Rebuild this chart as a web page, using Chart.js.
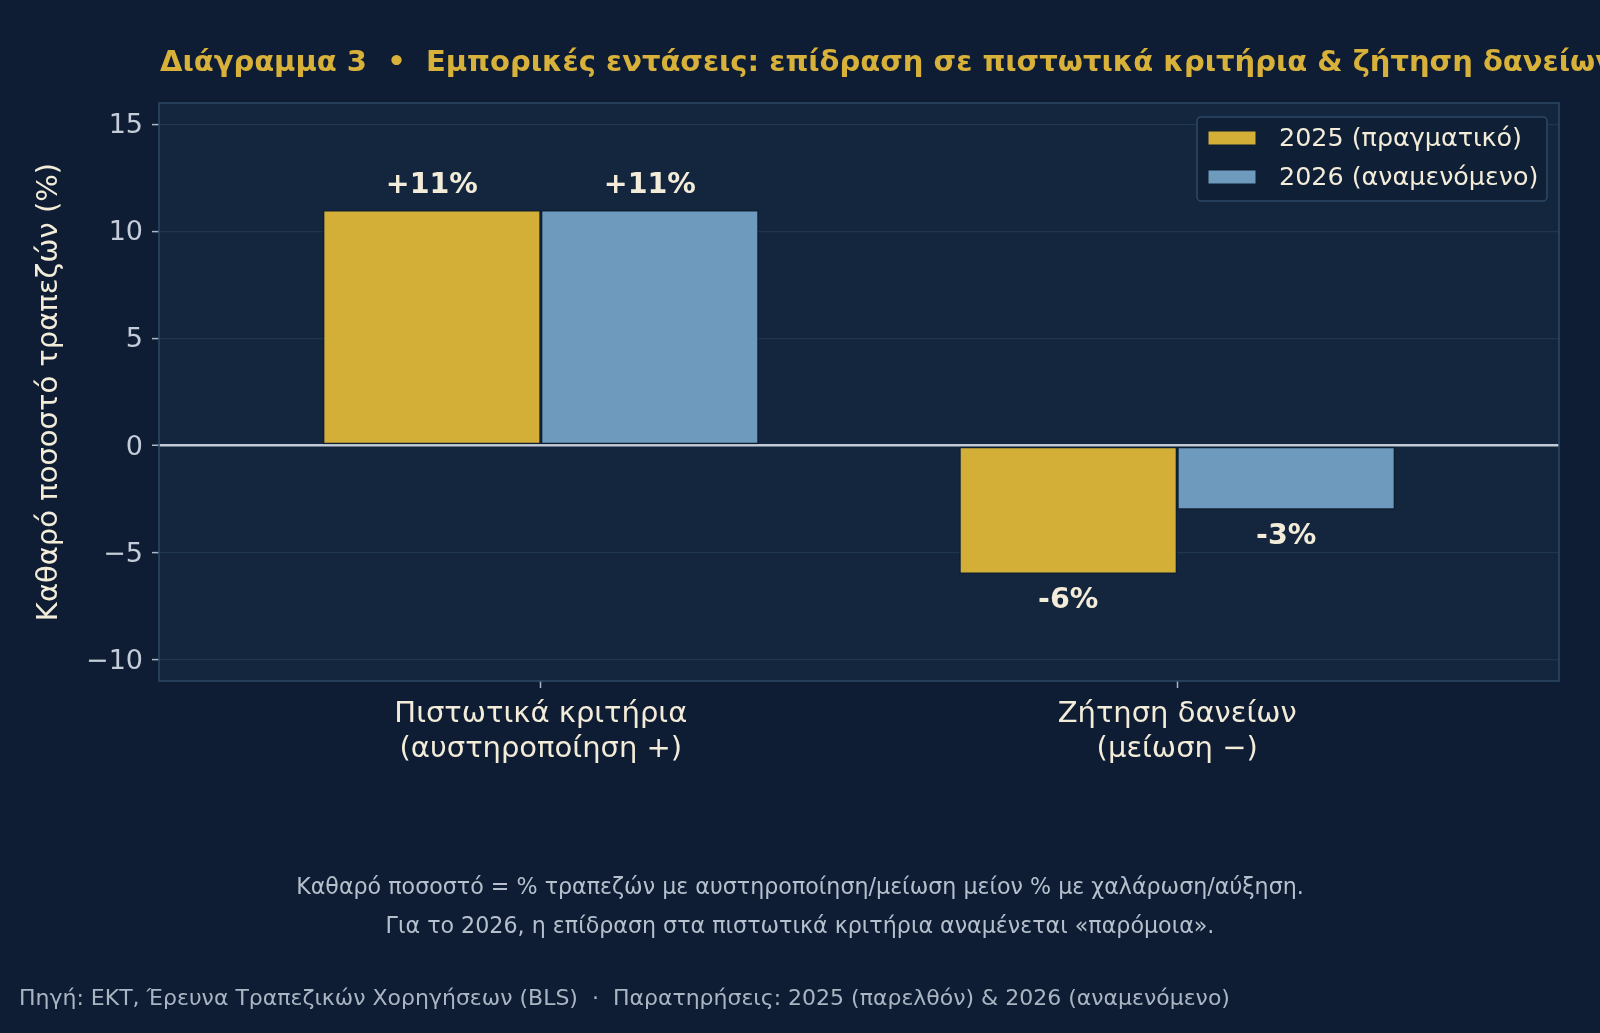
<!DOCTYPE html>
<html>
<head>
<meta charset="utf-8">
<script src="https://cdn.jsdelivr.net/npm/chart.js@4"></script>
<style>
  html, body { margin: 0; padding: 0; background: #0e1d33; }
  canvas { display: block; }
</style>
</head>
<body>
<canvas id="chart" width="1600" height="1033"></canvas>
<script>
// data
var categories = [
    ['Πιστωτικά κριτήρια', '(αυστηροποίηση +)'],
    ['Ζήτηση δανείων', '(μείωση −)']
];
var seriesLabels = ['2025 (πραγματικό)', '2026 (αναμενόμενο)'];
var values2025 = [11, -6];
var values2026 = [11, -3];
var yTicks = [-10, -5, 0, 5, 10, 15];
var yRange = [-11, 16];

var titleText = 'Διάγραμμα 3  •  Εμπορικές εντάσεις: επίδραση σε πιστωτικά κριτήρια & ζήτηση δανείων';
var yLabel = 'Καθαρό ποσοστό τραπεζών (%)';
var notes = [
    'Καθαρό ποσοστό = % τραπεζών με αυστηροποίηση/μείωση μείον % με χαλάρωση/αύξηση.',
    'Για το 2026, η επίδραση στα πιστωτικά κριτήρια αναμένεται «παρόμοια».'
];
var sourceText = 'Πηγή: ΕΚΤ, Έρευνα Τραπεζικών Χορηγήσεων (BLS)  ·  Παρατηρήσεις: 2025 (παρελθόν) & 2026 (αναμενόμενο)';

var GOLD = '#d4af37';
var BLUE = '#6d9abd';
var FONT = '"DejaVu Sans", sans-serif';

var toPoints = function (arr) {
    return arr.map(function (v, i) { return { x: i, y: v }; });
};

var decorPlugin = {
    id: 'decor',
    beforeDraw: function (chart) {
        var ctx = chart.ctx;
        var a = chart.chartArea;
        ctx.save();
        ctx.fillStyle = '#0e1d33';
        ctx.fillRect(0, 0, chart.width, chart.height);
        ctx.fillStyle = '#13263e';
        ctx.fillRect(a.left, a.top, a.right - a.left, a.bottom - a.top);
        ctx.restore();
    },
    afterDatasetsDraw: function (chart) {
        var ctx = chart.ctx;
        ctx.save();
        ctx.font = 'bold 28.5px ' + FONT;
        ctx.fillStyle = '#f3ecd9';
        ctx.textAlign = 'center';
        ctx.textBaseline = 'middle';
        chart.data.datasets.forEach(function (ds, di) {
            var meta = chart.getDatasetMeta(di);
            meta.data.forEach(function (bar, i) {
                var v = ds.data[i].y;
                var txt = (v > 0 ? '+' : '') + v + '%';
                var y = v >= 0 ? bar.y - 24 : bar.y + 27;
                ctx.fillText(txt, bar.x, y);
            });
        });
        ctx.restore();
    },
    afterDraw: function (chart) {
        var ctx = chart.ctx;
        var a = chart.chartArea;
        ctx.save();

        // frame
        ctx.strokeStyle = '#2e4866';
        ctx.lineWidth = 1.5;
        ctx.strokeRect(a.left, a.top, a.right - a.left, a.bottom - a.top);

        // title
        ctx.font = 'bold 29px ' + FONT;
        ctx.fillStyle = '#d8b13a';
        ctx.textAlign = 'left';
        ctx.textBaseline = 'middle';
        ctx.fillText(titleText, a.left + 1, 63);

        // y label
        ctx.save();
        ctx.translate(49, (a.top + a.bottom) / 2);
        ctx.rotate(-Math.PI / 2);
        ctx.font = '29px ' + FONT;
        ctx.fillStyle = '#f3ecd9';
        ctx.textAlign = 'center';
        ctx.fillText(yLabel, 0, 0);
        ctx.restore();

        // legend
        var lx = a.right - 12 - 350, ly = a.top + 14, lw = 350, lh = 84;
        ctx.fillStyle = '#0f1f35';
        ctx.strokeStyle = '#2e4866';
        ctx.lineWidth = 1.5;
        ctx.beginPath();
        ctx.roundRect(lx, ly, lw, lh, 4);
        ctx.fill();
        ctx.stroke();
        ctx.font = '25.4px ' + FONT;
        chart.data.datasets.forEach(function (ds, i) {
            var cy = ly + 21 + i * 39;
            ctx.fillStyle = ds.backgroundColor;
            ctx.fillRect(lx + 11, cy - 7, 48, 14);
            ctx.strokeStyle = '#0f1f33';
            ctx.lineWidth = 1;
            ctx.strokeRect(lx + 11, cy - 7, 48, 14);
            ctx.fillStyle = '#f3ecd9';
            ctx.fillText(ds.label, lx + 82, cy + 1);
        });

        // notes
        ctx.font = '22.2px ' + FONT;
        ctx.fillStyle = '#b6c0cd';
        ctx.textAlign = 'center';
        ctx.fillText(notes[0], chart.width / 2, 888);
        ctx.fillText(notes[1], chart.width / 2, 927);

        ctx.textAlign = 'left';
        ctx.font = '22px ' + FONT;
        ctx.fillStyle = '#aab5c3';
        ctx.fillText(sourceText, 19, 999);
        ctx.restore();
    }
};

var createChart = function () {
    var canvas = document.getElementById('chart');

    new Chart(canvas, {
        type: 'bar',
        data: {
            datasets: [{
                label: seriesLabels[0],
                data: toPoints(values2025),
                backgroundColor: GOLD,
                borderColor: '#0f1f33',
                borderWidth: 1.5,
                borderSkipped: false
            }, {
                label: seriesLabels[1],
                data: toPoints(values2026),
                backgroundColor: BLUE,
                borderColor: '#0f1f33',
                borderWidth: 1.5,
                borderSkipped: false
            }]
        },
        options: {
            responsive: false,
            animation: false,
            devicePixelRatio: 1,
            categoryPercentage: 0.685,
            barPercentage: 1.0,
            layout: { padding: { top: 103, right: 41, left: 0, bottom: 0 } },
            plugins: {
                legend: { display: false },
                tooltip: { enabled: false }
            },
            scales: {
                x: {
                    type: 'linear',
                    min: -0.6,
                    max: 1.6,
                    offset: false,
                    afterBuildTicks: function (scale) {
                        scale.ticks = categories.map(function (c, i) { return { value: i }; });
                    },
                    afterFit: function (scale) { scale.height = 352; },
                    grid: {
                        offset: false,
                        drawOnChartArea: false,
                        drawTicks: true,
                        tickLength: 7,
                        tickColor: '#a9b6c6',
                        tickWidth: 1.5
                    },
                    border: { display: false },
                    ticks: {
                        autoSkip: false,
                        maxRotation: 0,
                        padding: 9,
                        color: '#f3ecd9',
                        font: { family: FONT, size: 29, lineHeight: 1.2 },
                        callback: function (v) { return categories[v]; }
                    }
                },
                y: {
                    min: yRange[0],
                    max: yRange[1],
                    afterBuildTicks: function (scale) {
                        scale.ticks = yTicks.map(function (v) { return { value: v }; });
                    },
                    afterFit: function (scale) { scale.width = 159; },
                    grid: {
                        color: function (c) { return c.tick && c.tick.value === 0 ? '#c3cbd6' : '#20364f'; },
                        lineWidth: function (c) { return c.tick && c.tick.value === 0 ? 2.5 : 1.2; },
                        tickLength: 7,
                        tickColor: '#a9b6c6',
                        tickWidth: 1.5
                    },
                    border: { display: false },
                    ticks: {
                        padding: 9,
                        labelOffset: 2,
                        color: '#c3ccd8',
                        font: { family: FONT, size: 27 },
                        callback: function (v) { return v < 0 ? '−' + Math.abs(v) : '' + v; }
                    }
                }
            }
        },
        plugins: [decorPlugin]
    });
};

createChart();
</script>
</body>
</html>
